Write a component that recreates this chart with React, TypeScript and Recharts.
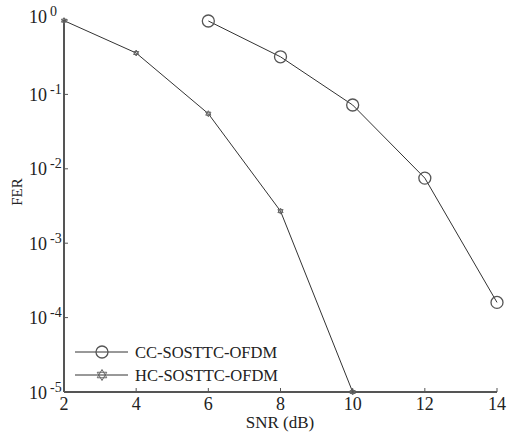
import React from 'react';
import { LineChart, Line, XAxis, YAxis } from 'recharts';

const snrTicks = [2, 4, 6, 8, 10, 12, 14];
const ferTicks = [1e-5, 1e-4, 1e-3, 1e-2, 1e-1, 1];
const ccSnr = [6, 8, 10, 12, 14];
const ccFer = [0.97, 0.32, 0.072, 0.0075, 0.00016];
const hcSnr = [2, 4, 6, 8, 10];
const hcFer = [0.98, 0.36, 0.055, 0.0027, 0.00001];
const seriesNames = ['CC-SOSTTC-OFDM', 'HC-SOSTTC-OFDM'];

const ccData = ccSnr.map((x, i) => ({ x, y: ccFer[i] }));
const hcData = hcSnr.map((x, i) => ({ x, y: hcFer[i] }));

const FONT = '"Liberation Serif", "Times New Roman", serif';
const AXIS = '#555';
const TXT = '#222';

const Hexagram = ({ cx, cy, r = 5.5 }: any) => {
  if (cx == null || cy == null) return null;
  const tri = (off: number) =>
    [0, 1, 2]
      .map((k) => {
        const a = ((off + k * 120) * Math.PI) / 180;
        return `${cx + r * Math.cos(a)},${cy + r * Math.sin(a)}`;
      })
      .join(' ');
  return (
    <g>
      <polygon points={tri(-90)} fill="none" stroke="#666" strokeWidth={1} />
      <polygon points={tri(90)} fill="none" stroke="#666" strokeWidth={1} />
    </g>
  );
};

const CircleDot = ({ cx, cy }: any) => {
  if (cx == null || cy == null) return null;
  return <circle cx={cx} cy={cy} r={6} fill="none" stroke="#555" strokeWidth={1.3} />;
};

const YTick = (props: any) => {
  const { x, y, payload } = props;
  const exp = Math.round(Math.log10(payload.value));
  const base = exp === 0 ? y + 3 : y + 6.5;
  return (
    <g>
      <line x1={x} x2={x + 4} y1={y} y2={y} stroke={AXIS} strokeWidth={1} />
      <text x={x - 35} y={base} textAnchor="start" fontFamily={FONT} fontSize={18} fill={TXT}>
        10
        <tspan dx={3} dy={-7} fontSize={14}>
          {exp === 0 ? '0' : `-${Math.abs(exp)}`}
        </tspan>
      </text>
    </g>
  );
};

const XTick = (props: any) => {
  const { x, y, payload } = props;
  return (
    <g>
      <line x1={x} x2={x} y1={y} y2={y - 4} stroke={AXIS} strokeWidth={1} />
      <text x={x} y={y + 18} textAnchor="middle" fontFamily={FONT} fontSize={18} fill={TXT}>
        {payload.value}
      </text>
    </g>
  );
};

export default function App() {
  return (
    <div style={{ position: 'absolute', left: 0, top: 0, width: 508, height: 436, background: '#fff' }}>
      <LineChart
        width={508}
        height={436}
        margin={{ top: 20, right: 11, bottom: 0, left: 0 }}
      >
        <XAxis
          dataKey="x"
          type="number"
          domain={[2, 14]}
          ticks={snrTicks}
          height={44}
          tickSize={0}
          tickMargin={0}
          tickLine={false}
          tick={<XTick />}
          axisLine={{ stroke: AXIS, strokeWidth: 2 }}
          allowDuplicatedCategory={false}
          interval={0}
        />
        <YAxis
          dataKey="y"
          type="number"
          scale="log"
          domain={[1e-5, 1]}
          ticks={ferTicks}
          width={64}
          tickSize={0}
          tickMargin={0}
          tickLine={false}
          tick={<YTick />}
          axisLine={{ stroke: AXIS, strokeWidth: 2 }}
          interval={0}
        />
        <Line
          data={ccData}
          dataKey="y"
          name={seriesNames[0]}
          stroke="#333"
          strokeWidth={1}
          dot={<CircleDot />}
          isAnimationActive={false}
        />
        <Line
          data={hcData}
          dataKey="y"
          name={seriesNames[1]}
          stroke="#333"
          strokeWidth={1}
          dot={<Hexagram />}
          isAnimationActive={false}
        />
      </LineChart>
      <svg
        width={508}
        height={436}
        style={{ position: 'absolute', left: 0, top: 0, pointerEvents: 'none' }}
      >
        <text x={280} y={428} textAnchor="middle" fontFamily={FONT} fontSize={17} fill={TXT}>
          SNR (dB)
        </text>
        <text
          x={22}
          y={192}
          textAnchor="middle"
          fontFamily={FONT}
          fontSize={15}
          fill={TXT}
          transform="rotate(-90 22 192)"
        >
          FER
        </text>
        <g>
          <line x1={75} x2={128} y1={352} y2={352} stroke="#333" strokeWidth={1} />
          <CircleDot cx={102} cy={352} />
          <text x={135} y={358} fontFamily={FONT} fontSize={16.5} fill={TXT}>
            {seriesNames[0]}
          </text>
          <line x1={75} x2={128} y1={375} y2={375} stroke="#333" strokeWidth={1} />
          <Hexagram cx={102} cy={375} />
          <text x={135} y={381} fontFamily={FONT} fontSize={16.5} fill={TXT}>
            {seriesNames[1]}
          </text>
        </g>
      </svg>
    </div>
  );
}
